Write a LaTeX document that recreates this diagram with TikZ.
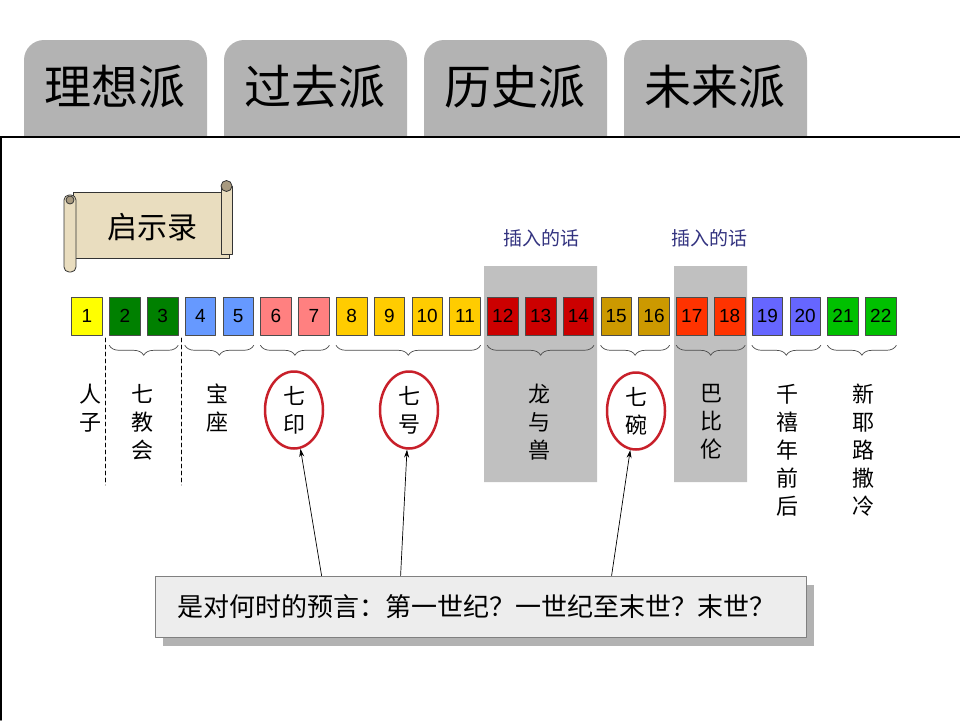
\documentclass[tikz,border=0pt]{standalone}
\usepackage{fontspec}
\setmainfont{Liberation Sans}
\newfontfamily\cjk{Noto Sans CJK SC}
\usetikzlibrary{arrows.meta,decorations.pathreplacing,shapes.geometric}
\definecolor{tabgray}{HTML}{B3B3B3}
\definecolor{parch}{HTML}{E9DDBF}
\definecolor{curl}{HTML}{A89A80}
\definecolor{insgray}{HTML}{C0C0C0}
\definecolor{insblue}{HTML}{333380}
\definecolor{ringred}{HTML}{C8202A}
\definecolor{qgray}{HTML}{EDEDED}
\definecolor{shadowgray}{HTML}{B2B2B2}
\definecolor{c1}{HTML}{FFFF00}
\definecolor{c2}{HTML}{008000}
\definecolor{c3}{HTML}{6699FF}
\definecolor{c4}{HTML}{FF8080}
\definecolor{c5}{HTML}{FFCC00}
\definecolor{c6}{HTML}{CC0000}
\definecolor{c7}{HTML}{CC9900}
\definecolor{c8}{HTML}{FF3300}
\definecolor{c9}{HTML}{6666FF}
\definecolor{c10}{HTML}{00C000}
\begin{document}
\begin{tikzpicture}[x=1pt,y=-1pt,>={Stealth[length=8pt,width=5pt]},line cap=round,line join=round,
	tabbox/.style={fill=tabgray,rounded corners=20pt},
	scroll/.style={fill=parch,draw=black!80,line width=0.8pt},
	num/.style={draw=black!70,line width=0.6pt,minimum width=30.5pt,minimum height=38pt,inner sep=0pt,font=\fontsize{19}{19}\selectfont},
	vtext/.style={align=center,anchor=north,inner sep=0pt,font=\cjk\fontsize{22}{28}\selectfont},
	oval/.style={draw=ringred,line width=2.5pt,ellipse,minimum width=58pt,minimum height=77pt,inner sep=0pt,align=center,font=\cjk\fontsize{22}{28}\selectfont},
	grp/.style={decorate,decoration={brace,mirror,amplitude=10pt},draw=black!70,line width=0.7pt}]
			\useasboundingbox (0,0) rectangle (960,720);
			\foreach \t [count=\i from 0] in {理想派,过去派,历史派,未来派}{
				\fill[tabbox] (24+200*\i,40) rectangle (207+200*\i,170);
				\node[font=\cjk\fontsize{47}{47}\selectfont] (tab\i) at (114.5+200*\i,87) {\t};
			}
			\fill[white] (0,137) rectangle (960,720);
			\draw[line width=1.5pt] (0,137)--(960,137) (1,137)--(1,720);
			% scroll
			\filldraw[scroll] (73,192) rectangle (229,258);
			\filldraw[scroll] (221,186) rectangle (232,254);
			\filldraw[scroll,fill=curl] (226.5,186) circle(5.5pt);
			\filldraw[scroll,rounded corners=5pt] (64,195) rectangle (76,272);
			\filldraw[scroll,fill=curl] (70,200) circle(4pt);
			\node[font=\cjk\fontsize{30}{30}\selectfont] (rev) at (152,227) {启示录};
			% inserted parts
			\fill[insgray] (484,266) rectangle (597,482) (674,266) rectangle (747,482);
			\node[font=\cjk\fontsize{19}{19}\selectfont,text=insblue] (ins1) at (541,238) {插入的话};
			\node[font=\cjk\fontsize{19}{19}\selectfont,text=insblue] (ins2) at (709,238) {插入的话};
			\foreach \c [count=\i] in {c1,c2,c2,c3,c3,c4,c4,c5,c5,c5,c5,c6,c6,c6,c7,c7,c8,c8,c9,c9,c10,c10}
				\node[num,fill=\c] (b\i) at ({87+37.8*(\i-1)},316) {\i};
			\foreach \a/\b in {2/3,4/5,6/7,8/11,12/14,15/16,17/18,19/20,21/22}
				\draw[grp] ([yshift=-10pt]b\a.south west)--([yshift=-10pt]b\b.south east);
			\draw[dash pattern=on 4pt off 3pt,line width=0.7pt] (105,338)--(105,485) (181,338)--(181,485);
			\node[vtext] (rz) at (90,384) {人\\子};
			\node[vtext] (jh) at (142,384) {七\\教\\会};
			\node[vtext] (bz) at (217,384) {宝\\座};
			\node[oval] (yin) at (294,410) {七\\印};
			\node[oval] (hao) at (409,410) {七\\号};
			\node[vtext] (ls) at (539,384) {龙\\与\\兽};
			\node[oval] (wan) at (636,411) {七\\碗};
			\node[vtext] (bbl) at (711,384) {巴\\比\\伦};
			\node[vtext] (qx) at (787,384) {千\\禧\\年\\前\\后};
			\node[vtext] (xy) at (863,384) {新\\耶\\路\\撒\\冷};
			% question
			\fill[shadowgray] (163,585) rectangle (814,646);
			\node[draw=gray,fill=qgray,line width=0.8pt,minimum width=651pt,minimum height=61pt,inner sep=0pt,font=\cjk\fontsize{26}{26}\selectfont] (q) at (480.5,606.5) {\hspace*{-9pt}是对何时的预言：第一世纪？一世纪至末世？末世？};
			\coordinate (s1) at ([xshift=167pt]q.north west);
			\coordinate (s2) at ([xshift=246pt]q.north west);
			\coordinate (s3) at ([xshift=457pt]q.north west);
			\draw[->,line width=0.7pt] (s1)--(yin);
			\draw[->,line width=0.7pt] (s2)--(hao);
			\draw[->,line width=0.7pt] (s3)--(wan);
\end{tikzpicture}
\end{document}
